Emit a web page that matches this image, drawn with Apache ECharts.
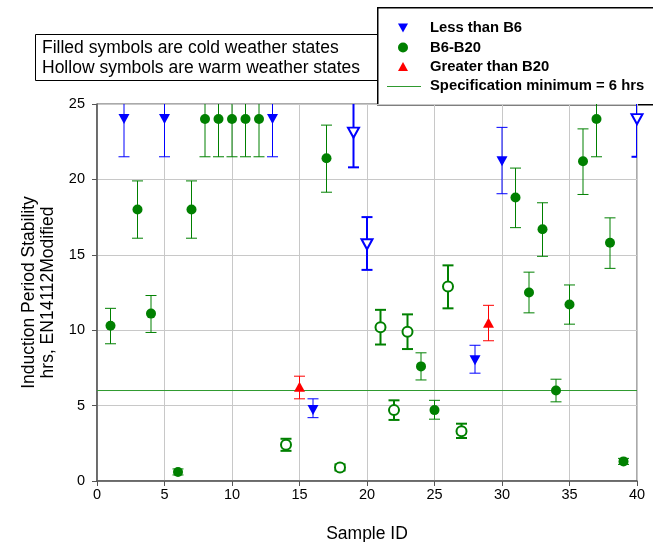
<!DOCTYPE html>
<html>
<head>
<meta charset="utf-8">
<script src="https://cdn.jsdelivr.net/npm/echarts@6/dist/echarts.min.js"></script>
<style>
html, body { margin: 0; padding: 0; background: #fff; }
#main { width: 653px; height: 542px; }
</style>
</head>
<body>
<div id="main"></div>
<script>
var FONT = '"Liberation Sans", Arial, sans-serif';

// Less than B6 (blue, down triangles)
var blueFilledX = [2, 5, 13, 16, 28, 30];
var blueFilledY = [24, 24, 24, 4.7, 8.0, 21.2];
var blueFilledLo = [21.5, 21.5, 21.5, 4.2, 7.15, 19.05];
var blueFilledHi = [26.5, 26.5, 26.5, 5.45, 9.0, 23.45];

var blueHollowX = [19, 20, 40];
var blueHollowY = [23.1, 15.7, 24];
var blueHollowLo = [20.8, 14.0, 21.5];
var blueHollowHi = [25.4, 17.5, 26.5];

// B6-B20 (green circles)
var greenFilledX = [1, 3, 4, 6, 7, 8, 9, 10, 11, 12, 17, 24, 25, 31, 32, 33, 34, 35, 36, 37, 38, 39];
var greenFilledY = [10.3, 18.0, 11.1, 0.6, 18.0, 24, 24, 24, 24, 24, 21.4, 7.6, 4.7, 18.8, 12.5, 16.7, 6.0, 11.7, 21.2, 24, 15.8, 1.3];
var greenFilledLo = [9.1, 16.1, 9.85, 0.4, 16.1, 21.5, 21.5, 21.5, 21.5, 21.5, 19.15, 6.7, 4.1, 16.8, 11.15, 14.9, 5.25, 10.4, 19.0, 21.5, 14.1, 1.1];
var greenFilledHi = [11.45, 19.9, 12.3, 0.8, 19.9, 26.5, 26.5, 26.5, 26.5, 26.5, 23.6, 8.5, 5.35, 20.75, 13.85, 18.45, 6.75, 13.0, 23.35, 26.5, 17.45, 1.5];

var greenHollowX = [14, 18, 21, 22, 23, 26, 27];
var greenHollowY = [2.4, 0.9, 10.2, 4.7, 9.9, 12.9, 3.3];
var greenHollowLo = [2.0, 0.7, 9.05, 4.05, 8.75, 11.45, 2.85];
var greenHollowHi = [2.8, 1.1, 11.35, 5.35, 11.05, 14.3, 3.8];

// Greater than B20 (red up triangles)
var redX = [15, 29];
var redY = [6.25, 10.5];
var redLo = [5.45, 9.3];
var redHi = [6.95, 11.65];

var specMin = 6;
var xTicks = [0, 40, 5];
var yTicks = [0, 25, 5];
var legendNames = ['Less than B6', 'B6-B20', 'Greater than B20', 'Specification minimum = 6 hrs'];

var BLUE = '#0000ff', GREEN = '#008000', RED = '#ff0000', SPEC = '#2f9a2f';
var DOWN = 'path://M0,0L10,0L5,9Z';

function pts(xs, ys) {
    return xs.map(function (x, i) { return [x, ys[i]]; });
}
function bars(xs, lo, hi) {
    return xs.map(function (x, i) { return [x, lo[i], hi[i]]; });
}

function errorBars(data, color, width) {
    return {
        type: 'custom',
        clip: true,
        silent: true,
        z: 3,
        encode: { x: 0, y: [1, 2] },
        data: data,
        renderItem: function (params, api) {
            var x = api.value(0);
            var lo = api.coord([x, api.value(1)]);
            var hi = api.coord([x, api.value(2)]);
            var cx = lo[0];
            var hw = 5.5;
            var st = { stroke: color, lineWidth: width, fill: null };
            return {
                type: 'group',
                children: [
                    { type: 'line', shape: { x1: cx, y1: hi[1], x2: cx, y2: lo[1] }, style: st },
                    { type: 'line', shape: { x1: cx - hw, y1: hi[1], x2: cx + hw, y2: hi[1] }, style: st },
                    { type: 'line', shape: { x1: cx - hw, y1: lo[1], x2: cx + hw, y2: lo[1] }, style: st }
                ]
            };
        }
    };
}

function marks(name, data, symbol, size, color, hollow) {
    return {
        name: name,
        type: 'scatter',
        z: 4,
        symbol: symbol,
        symbolSize: size,
        data: data,
        itemStyle: hollow
            ? { color: '#fff', borderColor: color, borderWidth: 2, opacity: 1 }
            : { color: color, opacity: 1 }
    };
}

// legend box drawn by hand so the line key and symbol keys match the original
var legendRows = [28, 47.5, 66.5, 86];
var legendGraphic = [
    {
        type: 'rect', z: 0, left: 377, top: 7,
        shape: { width: 300, height: 97 },
        style: { fill: '#fff', stroke: '#000', lineWidth: 1.5 }
    },
    { type: 'polygon', z: 1, shape: { points: [[398, legendRows[0] - 4.5], [408, legendRows[0] - 4.5], [403, legendRows[0] + 4.5]] }, style: { fill: BLUE } },
    { type: 'circle', z: 1, shape: { cx: 403, cy: legendRows[1], r: 5 }, style: { fill: GREEN } },
    { type: 'polygon', z: 1, shape: { points: [[398, legendRows[2] + 4.5], [408, legendRows[2] + 4.5], [403, legendRows[2] - 4.5]] }, style: { fill: RED } },
    { type: 'line', z: 1, shape: { x1: 387, y1: legendRows[3] + 0.5, x2: 421, y2: legendRows[3] + 0.5 }, style: { stroke: SPEC, lineWidth: 1 } }
];
legendNames.forEach(function (n, i) {
    legendGraphic.push({
        type: 'text', z: 1, x: 430, y: legendRows[i],
        style: {
            text: n, fontFamily: FONT, fontSize: 14.8, fontWeight: 'bold',
            fill: '#000', verticalAlign: 'middle', align: 'left'
        }
    });
});

var chart = echarts.init(document.getElementById('main'));
var option = {
    backgroundColor: '#fff',
    animation: false,
    textStyle: { fontFamily: FONT },
    grid: {
        left: 97, right: 16, top: 104, bottom: 61,
        outerBoundsMode: 'none', containLabel: false,
        show: true, borderColor: '#555', borderWidth: 1
    },
    graphic: [
        {
            type: 'rect', z: 0, left: 35, top: 34,
            shape: { width: 342, height: 46 },
            style: { fill: '#fff', stroke: '#000', lineWidth: 1 }
        },
        {
            type: 'text', z: 1, left: 42, top: 38,
            style: {
                text: 'Filled symbols are cold weather states\nHollow symbols are warm weather states',
                fontFamily: FONT, fontSize: 17.5, lineHeight: 20, fill: '#000'
            }
        }
    ].concat(legendGraphic),
    xAxis: {
        type: 'value', min: xTicks[0], max: xTicks[1], interval: xTicks[2],
        name: 'Sample ID', nameLocation: 'middle', nameGap: 44,
        nameTextStyle: { fontFamily: FONT, fontSize: 17.5, color: '#000' },
        axisLine: { onZero: false, lineStyle: { color: '#555', width: 1.5 } },
        axisTick: { show: true, length: 5, lineStyle: { color: '#555' } },
        axisLabel: { fontFamily: FONT, fontSize: 14.5, color: '#000', margin: 6 },
        splitLine: { show: true, lineStyle: { color: '#c8c8c8', width: 1 } }
    },
    yAxis: {
        type: 'value', min: yTicks[0], max: yTicks[1], interval: yTicks[2],
        name: 'Induction Period Stability\nhrs, EN14112Modified',
        nameLocation: 'middle', nameRotate: 90, nameGap: 39,
        nameTextStyle: { fontFamily: FONT, fontSize: 17.5, color: '#000', lineHeight: 19 },
        axisLine: { onZero: false, lineStyle: { color: '#555', width: 1.5 } },
        axisTick: { show: true, length: 5, lineStyle: { color: '#555' } },
        axisLabel: { fontFamily: FONT, fontSize: 14.5, color: '#000', margin: 12 },
        splitLine: { show: true, lineStyle: { color: '#c8c8c8', width: 1 } }
    },
    series: [
        errorBars(bars(blueFilledX, blueFilledLo, blueFilledHi), BLUE, 1),
        errorBars(bars(blueHollowX, blueHollowLo, blueHollowHi), BLUE, 2),
        errorBars(bars(greenFilledX, greenFilledLo, greenFilledHi), GREEN, 1),
        errorBars(bars(greenHollowX, greenHollowLo, greenHollowHi), GREEN, 2),
        errorBars(bars(redX, redLo, redHi), RED, 1),
        {
            name: legendNames[3],
            type: 'line', symbol: 'none', z: 2, silent: true,
            data: [[xTicks[0], specMin], [xTicks[1], specMin]],
            lineStyle: { color: SPEC, width: 1 }
        },
        marks(legendNames[0], pts(blueFilledX, blueFilledY), DOWN, [11, 10], BLUE, false),
        marks(legendNames[0], pts(blueHollowX, blueHollowY), DOWN, [11, 10], BLUE, true),
        marks(legendNames[1], pts(greenFilledX, greenFilledY), 'circle', 10, GREEN, false),
        marks(legendNames[1], pts(greenHollowX, greenHollowY), 'circle', 10, GREEN, true),
        marks(legendNames[2], pts(redX, redY), 'triangle', [11, 10], RED, false)
    ]
};
chart.setOption(option);
</script>
</body>
</html>
